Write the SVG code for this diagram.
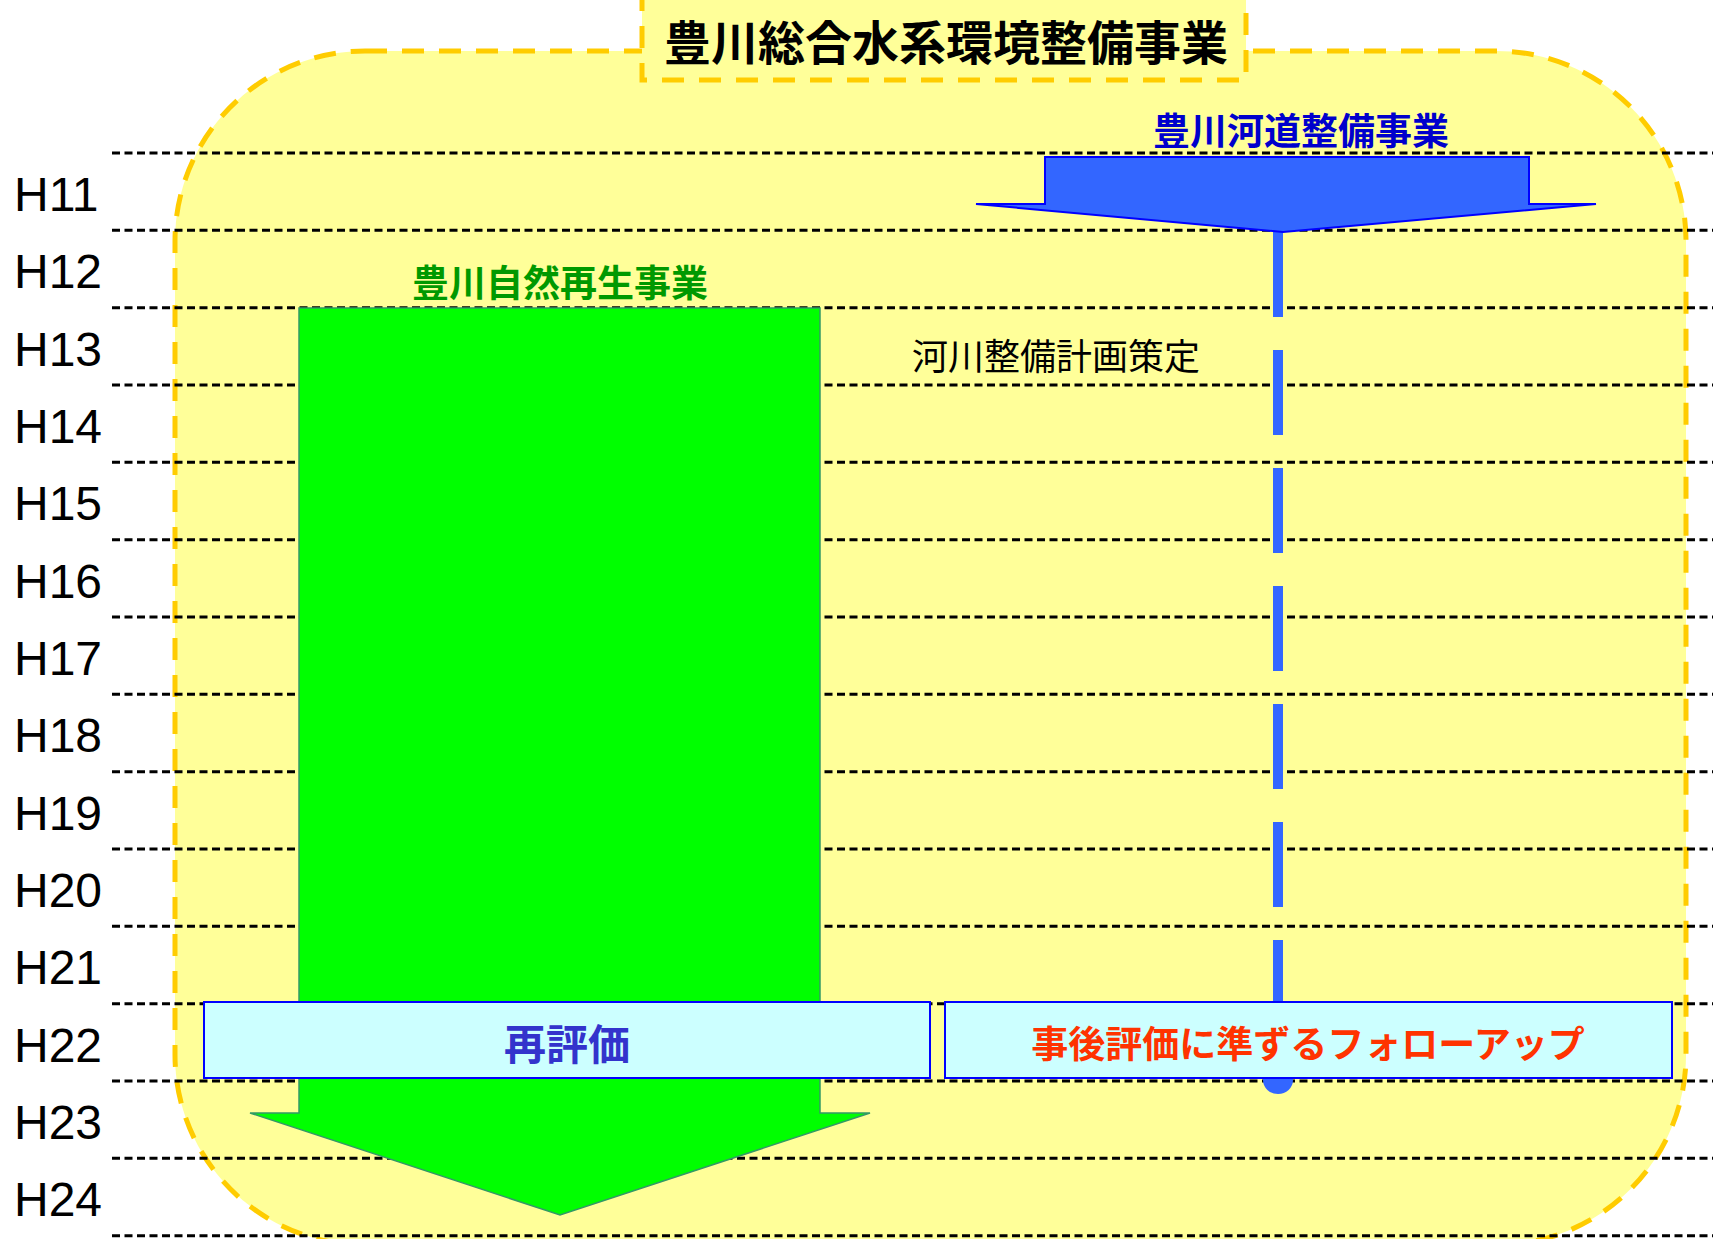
<svg xmlns="http://www.w3.org/2000/svg" width="1713" height="1239" viewBox="0 0 1713 1239">
<style>
.grid{stroke:#000;stroke-width:3;stroke-dasharray:8 4.5;fill:none}
.yr{font-family:"Liberation Sans",Arial,sans-serif;font-size:48px;fill:#000}
.jp{font-family:"Noto Sans CJK JP","Noto Sans CJK SC",sans-serif;text-anchor:middle}
.b{font-weight:700}
.frame{fill:#FFFF99;stroke:#FFCC00;stroke-width:5;stroke-dasharray:22 15}
.box{fill:#CCFFFF;stroke:#0000FF;stroke-width:2}
</style>
<rect width="1713" height="1239" fill="#FFFFFF"/>
<g id="frame">
<rect class="frame" x="175" y="51" width="1511" height="1194" rx="190" ry="190"/>
</g>
<g id="title">
<rect class="frame" x="642" y="-12" width="604" height="92"/>
<text class="jp b" x="946" y="60" font-size="47" fill="#000">豊川総合水系環境整備事業</text>
</g>
<g id="gridlines">
<line class="grid" x1="112" y1="153" x2="1713" y2="153"/>
<line class="grid" x1="112" y1="230.3" x2="1713" y2="230.3"/>
<line class="grid" x1="112" y1="307.7" x2="1713" y2="307.7"/>
<line class="grid" x1="112" y1="385" x2="1713" y2="385"/>
<line class="grid" x1="112" y1="462.3" x2="1713" y2="462.3"/>
<line class="grid" x1="112" y1="539.7" x2="1713" y2="539.7"/>
<line class="grid" x1="112" y1="617" x2="1713" y2="617"/>
<line class="grid" x1="112" y1="694.3" x2="1713" y2="694.3"/>
<line class="grid" x1="112" y1="771.7" x2="1713" y2="771.7"/>
<line class="grid" x1="112" y1="849" x2="1713" y2="849"/>
<line class="grid" x1="112" y1="926.3" x2="1713" y2="926.3"/>
<line class="grid" x1="112" y1="1003.7" x2="1713" y2="1003.7"/>
<line class="grid" x1="112" y1="1081" x2="1713" y2="1081"/>
<line class="grid" x1="112" y1="1158.3" x2="1713" y2="1158.3"/>
<line class="grid" x1="112" y1="1235.7" x2="1713" y2="1235.7"/>
</g>
<g id="years">
<text class="yr" x="14" y="211">H11</text>
<text class="yr" x="14" y="288.3">H12</text>
<text class="yr" x="14" y="365.7">H13</text>
<text class="yr" x="14" y="443">H14</text>
<text class="yr" x="14" y="520.3">H15</text>
<text class="yr" x="14" y="597.7">H16</text>
<text class="yr" x="14" y="675">H17</text>
<text class="yr" x="14" y="752.3">H18</text>
<text class="yr" x="14" y="829.7">H19</text>
<text class="yr" x="14" y="907">H20</text>
<text class="yr" x="14" y="984.3">H21</text>
<text class="yr" x="14" y="1061.7">H22</text>
<text class="yr" x="14" y="1139">H23</text>
<text class="yr" x="14" y="1216.3">H24</text>
</g>
<g id="nature-project">
<polygon points="299,308 820,308 820,1113 870,1113 560,1215 250,1113 299,1113" fill="#00FF00" stroke="#339966" stroke-width="1.5"/>
<text class="jp b" x="560" y="297" font-size="37" fill="#009900">豊川自然再生事業</text>
</g>
<g id="connectors">
<line x1="1278" y1="232" x2="1278" y2="1080" stroke="#3366FF" stroke-width="10" stroke-dasharray="85 33"/>
<ellipse cx="1278" cy="1080" rx="15" ry="14" fill="#3366FF"/>
</g>
<g id="river-project">
<polygon points="1045,157 1529,157 1529,204 1596,204 1283,232 976,204 1045,204" fill="#3366FF" stroke="#0000FF" stroke-width="2"/>
<text class="jp b" x="1301" y="145" font-size="37" fill="#0000CC">豊川河道整備事業</text>
</g>
<g id="plan-label">
<text class="jp" x="1056" y="370" font-size="36" fill="#000">河川整備計画策定</text>
</g>
<g id="reevaluation">
<rect class="box" x="204" y="1002" width="726" height="76"/>
<text class="jp b" x="567" y="1060" font-size="42" fill="#3333CC">再評価</text>
</g>
<g id="followup">
<rect class="box" x="945" y="1002" width="727" height="76"/>
<text class="jp b" x="1308" y="1058" font-size="37" fill="#FF3300">事後評価に準ずるフォローアップ</text>
</g>
</svg>
